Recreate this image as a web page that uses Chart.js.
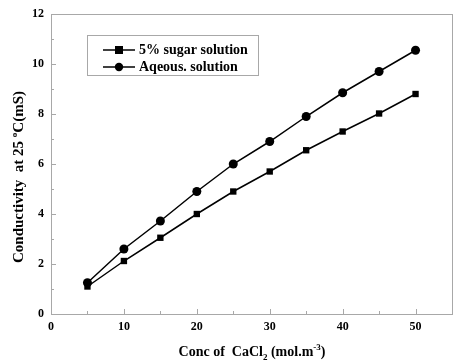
<!DOCTYPE html>
<html>
<head>
<meta charset="utf-8">
<script src="https://cdn.jsdelivr.net/npm/chart.js@4.4.0/dist/chart.umd.min.js"></script>
<style>
  html, body { margin: 0; padding: 0; background: #fff; }
  #wrap { width: 470px; height: 362px; }
</style>
</head>
<body>
<div id="wrap"><canvas id="chart" width="470" height="362"></canvas></div>
<script>
// Dati
const concValues = [5, 10, 15, 20, 25, 30, 35, 40, 45, 50];
const sugarValues = [1.1, 2.12, 3.05, 4.0, 4.9, 5.7, 6.55, 7.3, 8.02, 8.8];
const aqueousValues = [1.25, 2.6, 3.72, 4.9, 6.0, 6.9, 7.9, 8.85, 9.7, 10.55];
const xTicks = [0, 10, 20, 30, 40, 50];
const yTicks = [0, 2, 4, 6, 8, 10, 12];
const seriesNames = ['5% sugar solution', 'Aqeous. solution'];

const serif = '"Liberation Serif", "Times New Roman", serif';
const axisGray = '#a8a8a8';

// Plugin per assi, tacche, titoli e legenda
const framePlugin = {
  id: 'frame',
  afterDatasetsDraw(chart) {
    const ctx = chart.ctx;
    const a = chart.chartArea;
    const xs = chart.scales.x, ys = chart.scales.y;
    ctx.save();
    // cornice
    ctx.strokeStyle = axisGray;
    ctx.lineWidth = 1;
    ctx.strokeRect(Math.round(a.left) + 0.5, Math.round(a.top) + 0.5, Math.round(a.right - a.left), Math.round(a.bottom - a.top));
    // tacche asse x (interne)
    for (let v = 0; v <= 55; v += 5) {
      const px = Math.round(xs.getPixelForValue(v)) + 0.5;
      const len = v % 10 === 0 ? 5 : 3;
      ctx.beginPath();
      ctx.moveTo(px, a.bottom);
      ctx.lineTo(px, a.bottom - len);
      ctx.stroke();
    }
    // tacche asse y (interne)
    for (let v = 0; v <= 12; v += 1) {
      const py = Math.round(ys.getPixelForValue(v)) + 0.5;
      const len = v % 2 === 0 ? 5 : 3;
      ctx.beginPath();
      ctx.moveTo(a.left, py);
      ctx.lineTo(a.left + len, py);
      ctx.stroke();
    }
    // etichette
    ctx.fillStyle = '#000';
    ctx.font = 'bold 12px ' + serif;
    ctx.textAlign = 'center';
    ctx.textBaseline = 'middle';
    xTicks.forEach(v => ctx.fillText(String(v), xs.getPixelForValue(v), a.bottom + 13));
    ctx.textAlign = 'right';
    yTicks.forEach(v => ctx.fillText(String(v), a.left - 7, ys.getPixelForValue(v)));

    // titolo asse x con pedice e apice
    const big = 'bold 14px ' + serif;
    const small = 'bold 9px ' + serif;
    const parts = [
      { t: 'Conc of  CaCl', f: big, dy: 0 },
      { t: '2', f: small, dy: 4 },
      { t: ' (mol.m', f: big, dy: 0 },
      { t: '-3', f: small, dy: -6 },
      { t: ')', f: big, dy: 0 }
    ];
    drawParts(ctx, parts, 252, 356);

    // titolo asse y ruotato
    ctx.save();
    ctx.translate(23, 177);
    ctx.rotate(-Math.PI / 2);
    const ybig = 'bold 15px ' + serif;
    const yparts = [
      { t: 'Conductivity  at 25 ', f: ybig, dy: 0 },
      { t: 'o', f: small, dy: -6 },
      { t: 'C(mS)', f: ybig, dy: 0 }
    ];
    drawParts(ctx, yparts, 0, 0);
    ctx.restore();

    // legenda
    ctx.strokeStyle = axisGray;
    ctx.strokeRect(87.5, 35.5, 171, 40);
    const rows = [
      { y: 50, style: 'rect' },
      { y: 67, style: 'circle' }
    ];
    rows.forEach((r, i) => {
      ctx.strokeStyle = '#000';
      ctx.lineWidth = 1.5;
      ctx.beginPath();
      ctx.moveTo(103, r.y);
      ctx.lineTo(135, r.y);
      ctx.stroke();
      ctx.fillStyle = '#000';
      if (r.style === 'rect') {
        ctx.fillRect(115, r.y - 4, 8, 8);
      } else {
        ctx.beginPath();
        ctx.arc(119, r.y, 4.2, 0, Math.PI * 2);
        ctx.fill();
      }
      ctx.font = 'bold 14px ' + serif;
      ctx.textAlign = 'left';
      ctx.textBaseline = 'middle';
      ctx.fillText(seriesNames[i], 139, r.y);
    });
    ctx.restore();
  }
};

// disegna testo composto (centrato su cx, linea di base by)
function drawParts(ctx, parts, cx, by) {
  let total = 0;
  parts.forEach(p => { ctx.font = p.f; total += ctx.measureText(p.t).width; });
  let x = cx - total / 2;
  ctx.textAlign = 'left';
  ctx.textBaseline = 'alphabetic';
  ctx.fillStyle = '#000';
  parts.forEach(p => {
    ctx.font = p.f;
    ctx.fillText(p.t, x, by + p.dy);
    x += ctx.measureText(p.t).width;
  });
}

const pts = vals => concValues.map((c, i) => ({ x: c, y: vals[i] }));

new Chart(document.getElementById('chart'), {
  type: 'line',
  data: {
    datasets: [
      {
        label: seriesNames[0],
        data: pts(sugarValues),
        borderColor: '#000',
        backgroundColor: '#000',
        borderWidth: 1.5,
        pointStyle: 'rect',
        pointRadius: 4.5,
        pointBorderWidth: 0,
        tension: 0
      },
      {
        label: seriesNames[1],
        data: pts(aqueousValues),
        borderColor: '#000',
        backgroundColor: '#000',
        borderWidth: 1.5,
        pointStyle: 'circle',
        pointRadius: 4.5,
        pointBorderWidth: 0,
        tension: 0
      }
    ]
  },
  options: {
    responsive: false,
    animation: false,
    layout: { padding: { left: 51, right: 18, top: 14, bottom: 48 } },
    plugins: { legend: { display: false }, tooltip: { enabled: false } },
    scales: {
      x: { type: 'linear', min: 0, max: 55, display: false },
      y: { type: 'linear', min: 0, max: 12, display: false }
    }
  },
  plugins: [framePlugin]
});
</script>
</body>
</html>
